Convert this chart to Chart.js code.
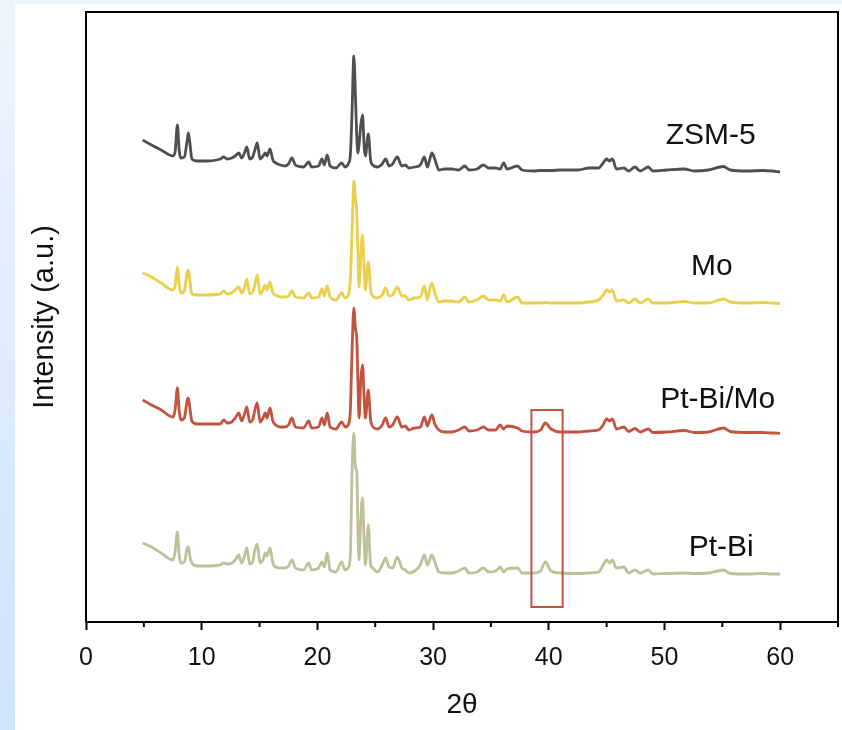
<!DOCTYPE html>
<html><head><meta charset="utf-8">
<script src="https://cdn.jsdelivr.net/npm/chart.js@4"></script>
<style>
html,body{margin:0;padding:0;}
body{width:842px;height:730px;overflow:hidden;position:relative;background:linear-gradient(to bottom,#eef5fe 0%,#dceafc 55%,#cfe3fb 100%);}
#paper{position:absolute;left:15px;top:4px;right:0;bottom:0;background:#fff;}
#wrap{position:absolute;left:0;top:0;width:842px;height:730px;}
</style></head><body>
<div id="paper"></div>
<div id="wrap"><canvas id="c" width="842" height="730"></canvas></div>
<script>
// 2θ positions (degrees)
const theta = [4.9,5.5,6.5,7.5,7.7,7.9,8.05,8.2,8.5,8.75,
8.85,9.0,9.15,9.6,10.5,11.3,11.6,11.9,12.2,12.6,
12.9,13.2,13.45,13.7,13.9,14.15,14.4,14.6,14.8,15.05,
15.3,15.5,15.65,15.9,16.15,16.4,16.8,17.2,17.5,17.8,
18.1,18.8,19.25,19.5,20.1,20.4,20.6,20.85,21.1,21.6,
22.1,22.4,22.7,22.85,23.0,23.15,23.3,23.4,23.5,23.6,
23.75,23.9,24.05,24.15,24.4,24.6,24.7,25.2,25.6,25.9,
26.2,26.5,26.9,27.3,27.6,27.9,28.4,28.9,29.25,29.5,
29.7,29.9,30.15,30.5,31.0,31.6,32.2,32.75,33.1,33.8,
34.35,34.8,35.4,35.8,36.1,36.4,37.3,37.7,38.7,39.3,
39.7,40.2,41.0,42.5,43.5,44.3,44.7,45.0,45.25,45.5,
45.85,46.5,46.9,47.45,47.9,48.6,49.0,50.2,51.7,52.6,
53.8,55.1,55.7,57.2,58.5,59.3,60];

// Intensities (a.u., stacked as displayed)
const zsm5 = [482,478,472,466,470,497,472,464,465,482,
489,477,463,461,461,462,463,465,463,464,
466,469,464,469,475,463,465,472,479,463,
466,469,466,473,462,459,457,456,458,464,
457,455,460,455,456,463,457,467,456,454,
459,455,459,467,512,566,522,487,469,477,
497,507,474,466,488,462,458,455,458,463,
456,458,465,456,457,454,455,457,465,455,
462,469,463,452,453,453,452,456,452,453,
457,454,454,453,459,453,456,452,451,451.5,
451.5,451.5,452,452,454,454,459,463,461,463,
453,454,451,455,451,455,451,452,453,451,
452,455.5,452,451,451.5,451,450];

const mo = [349,346,339,332,336,355,337,329,331,350,
352,339,328,327,327,327.5,328,331,328,329,
332,335,329,334,343,328,330,337,347,328,
332,337,332,340,329,327,325,325,326,331,
325,324,329,324,325,333,326,336,325,322,
329,324,328,342,392,441,422,410,372,335,
367,387,352,332,360,332,327,324,327,334,
326,327,335,326,326,322,324,325,336,322,
332,339,329,320,321,321,320,325,320,322,
326,322,322,321,327,320,325,319,319,319,
319.5,319,319,319,320,322,327,332,330,332,
321,322,319,323,319,323,319,319,320.5,319,
319,323,320,319,319.5,319,318.5];

const ptBiMo = [222,218,212,205,212,234,212,202,204,222,
224,212,201,198,198,198,198,202,199,200,
204,209,201,208,215,200,202,212,219,200,
204,209,204,214,201,197,195,195,197,204,
195,194,201,194,195,204,197,209,195,193,
200,195,198,212,272,314,292,285,242,204,
242,257,222,204,232,202,197,193,197,204,
195,197,205,195,196,192,194,195,205,196,
202,207,198,192,190,190,192,195,191,192,
195,192,192,197,193,196,194,191,190,192,
199,193,190,190,191,192,197,203,201,203,
193,195,190.5,193.5,190,193,189.5,190,191.5,189.5,
190,194,190.5,189.5,189.5,189,188.7];

const ptBi = [79,76,69,62,70,90,67,59,60,74,
75,64,59,56,56,56.5,57,59,58,59,
62,67,59,66,74,58,60,72,78,59,
62,69,66,74,59,55,54,54,56,62,
54,52,59,52,54,60,55,69,52,50,
60,52,55,67,152,189,154,152,97,62,
102,124,77,57,97,57,55,50,57,64,
55,54,65,54,52,49,51,57,67,57,
62,67,60,50,49,49,51,54,49,50,
54,50,51,55,50,53,54,49,49,51,
60,51,49,48.5,49,50,57,62,59,62,
54,55,49,52,49,52,48,48.5,49,48.5,
49,52,48.5,48,48.5,48,48];

const seriesNames = ['ZSM-5','Mo','Pt-Bi/Mo','Pt-Bi'];
const seriesColors = ['#4f4f4f','#e9cf4b','#c1533f','#bec09a'];
const labelTheta = [54.0,54.1,54.6,54.9];
const labelInt = [486,355,222,74];
const boxTheta = [38.5,41.2];
const boxInt = [15,212];

const toXY = ys => theta.map((t,i)=>({x:t,y:ys[i]}));
const allSeries = [zsm5, mo, ptBiMo, ptBi];
const FONT = '"Liberation Sans", Arial, Helvetica, sans-serif';

const extras = {
  id:'extras',
  afterDraw(chart){
    const {ctx, chartArea:a, scales:{x,y}} = chart;
    ctx.save();
    // highlight box
    ctx.strokeStyle = '#c1533f'; ctx.lineWidth = 2;
    const x0 = x.getPixelForValue(boxTheta[0]), x1 = x.getPixelForValue(boxTheta[1]);
    const y0 = y.getPixelForValue(boxInt[1]), y1 = y.getPixelForValue(boxInt[0]);
    ctx.strokeRect(x0, y0, x1-x0, y1-y0);
    // series labels
    ctx.fillStyle = '#111'; ctx.font = '30px ' + FONT;
    ctx.textAlign = 'center'; ctx.textBaseline = 'middle';
    seriesNames.forEach((n,i)=>ctx.fillText(n, x.getPixelForValue(labelTheta[i]), y.getPixelForValue(labelInt[i])));
    // frame
    ctx.strokeStyle = '#000'; ctx.lineWidth = 2;
    ctx.strokeRect(a.left, a.top, a.right-a.left, a.bottom-a.top);
    // minor ticks
    x.ticks.forEach(t=>{
      if (t.value % 10 !== 0) {
        const px = x.getPixelForValue(t.value);
        ctx.beginPath(); ctx.moveTo(px, a.bottom); ctx.lineTo(px, a.bottom+5); ctx.stroke();
      }
    });
    ctx.restore();
  }
};

new Chart(document.getElementById('c'), {
  type:'line',
  data:{
    datasets: allSeries.map((s,i)=>({
      label: seriesNames[i], data: toXY(s),
      borderColor: seriesColors[i], borderWidth: 2.8,
      pointRadius: 0, cubicInterpolationMode:'monotone', fill: false
    }))
  },
  options:{
    responsive:false, animation:false,
    layout:{padding:{top:12,right:4,bottom:0,left:0}},
    plugins:{legend:{display:false}, tooltip:{enabled:false}},
    scales:{
      x:{
        type:'linear', min:0, max:65,
        afterFit: s => { s.height = 108; s.paddingLeft = 0; s.paddingRight = 0; },
        border:{display:false},
        grid:{display:true, drawOnChartArea:false, tickLength:8, tickWidth:2,
              tickColor: c => (c.tick && c.tick.value % 10 === 0) ? '#000' : 'rgba(0,0,0,0)'},
        ticks:{stepSize:5, autoSkip:false, maxRotation:0, padding:13, color:'#111',
               font:{family:FONT, size:25},
               callback: v => (v % 10 === 0 ? String(v) : '')},
        title:{display:true, text:'2θ', color:'#111', font:{family:FONT, size:28}, padding:{top:0,bottom:8}}
      },
      y:{
        min:0, max:610,
        afterFit: s => { s.width = 86; },
        border:{display:false},
        grid:{display:false},
        ticks:{display:false},
        title:{display:true, text:'Intensity (a.u.)', color:'#111', font:{family:FONT, size:29}, padding:{top:28,bottom:0}}
      }
    }
  },
  plugins:[extras]
});
</script>
</body></html>
